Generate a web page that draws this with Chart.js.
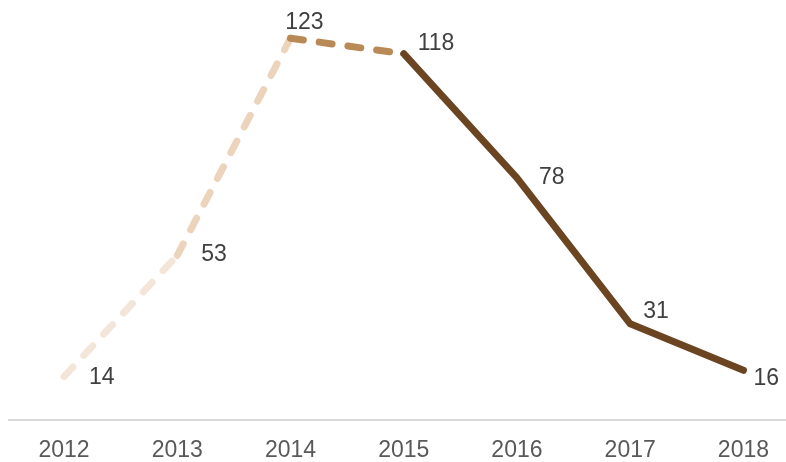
<!DOCTYPE html>
<html>
<head>
<meta charset="utf-8">
<script src="https://cdn.jsdelivr.net/npm/chart.js@4"></script>
<style>
  html, body { margin: 0; padding: 0; background: #fff; }
  #wrap { width: 786px; height: 462px; position: relative; }
</style>
</head>
<body>
<div id="wrap"><canvas id="lineChart"></canvas></div>
<script>
// Données
const years = ['2012', '2013', '2014', '2015', '2016', '2017', '2018'];
const values = [14, 53, 123, 118, 78, 31, 16];

// Style des segments (un par intervalle)
const segColors = ['#f3e5d8', '#ebd4bb', '#b98a56', '#6b4522', '#6b4522', '#6b4522'];
const segDashed = [true, true, true, false, false, false];

// Décalage des étiquettes par point
const labelOffsets = [[25, 1], [24, -1], [14, -16], [14, -10], [22, 0], [13, -12], [10, 8]];

// Étiquettes de valeurs
const valueLabels = {
    id: 'valueLabels',
    afterDatasetsDraw(chart) {
        const ctx = chart.ctx;
        const meta = chart.getDatasetMeta(0);
        ctx.save();
        ctx.font = '23px "Liberation Sans", Arial, sans-serif';
        ctx.fillStyle = '#404040';
        ctx.textBaseline = 'middle';
        meta.data.forEach((pt, i) => {
            const off = labelOffsets[i];
            ctx.textAlign = i === 2 ? 'center' : 'left';
            ctx.fillText(String(values[i]), pt.x + off[0], pt.y + off[1]);
        });
        ctx.restore();
    }
};

// Ligne de base grise
const baseLine = {
    id: 'baseLine',
    beforeDatasetsDraw(chart) {
        const ctx = chart.ctx;
        const y = chart.scales.y.getPixelForValue(0);
        ctx.save();
        ctx.strokeStyle = '#d9d9d9';
        ctx.lineWidth = 2;
        ctx.beginPath();
        ctx.moveTo(8, y);
        ctx.lineTo(786, y);
        ctx.stroke();
        ctx.restore();
    }
};

const ctx = document.getElementById('lineChart').getContext('2d');
const chart = new Chart(ctx, {
    type: 'line',
    data: {
        labels: years,
        datasets: [{
            data: values,
            borderWidth: 7,
            borderCapStyle: 'round',
            borderJoinStyle: 'round',
            pointRadius: 0,
            tension: 0,
            clip: false,
            segment: {
                borderColor: c => segColors[c.p0DataIndex],
                borderDash: c => segDashed[c.p0DataIndex] ? [13, 16] : []
            }
        }]
    },
    options: {
        responsive: true,
        maintainAspectRatio: false,
        animation: false,
        layout: {
            padding: { left: 64, right: 41, top: 32, bottom: 0 }
        },
        plugins: {
            legend: { display: false },
            tooltip: { enabled: false }
        },
        scales: {
            y: {
                display: false,
                min: 0,
                max: 125
            },
            x: {
                offset: false,
                grid: { display: false, drawTicks: false },
                border: { display: false },
                afterFit: scale => { scale.height = 42; },
                ticks: {
                    color: '#595959',
                    padding: 17,
                    font: { family: '"Liberation Sans", Arial, sans-serif', size: 23 }
                }
            }
        }
    },
    plugins: [baseLine, valueLabels]
});
</script>
</body>
</html>
